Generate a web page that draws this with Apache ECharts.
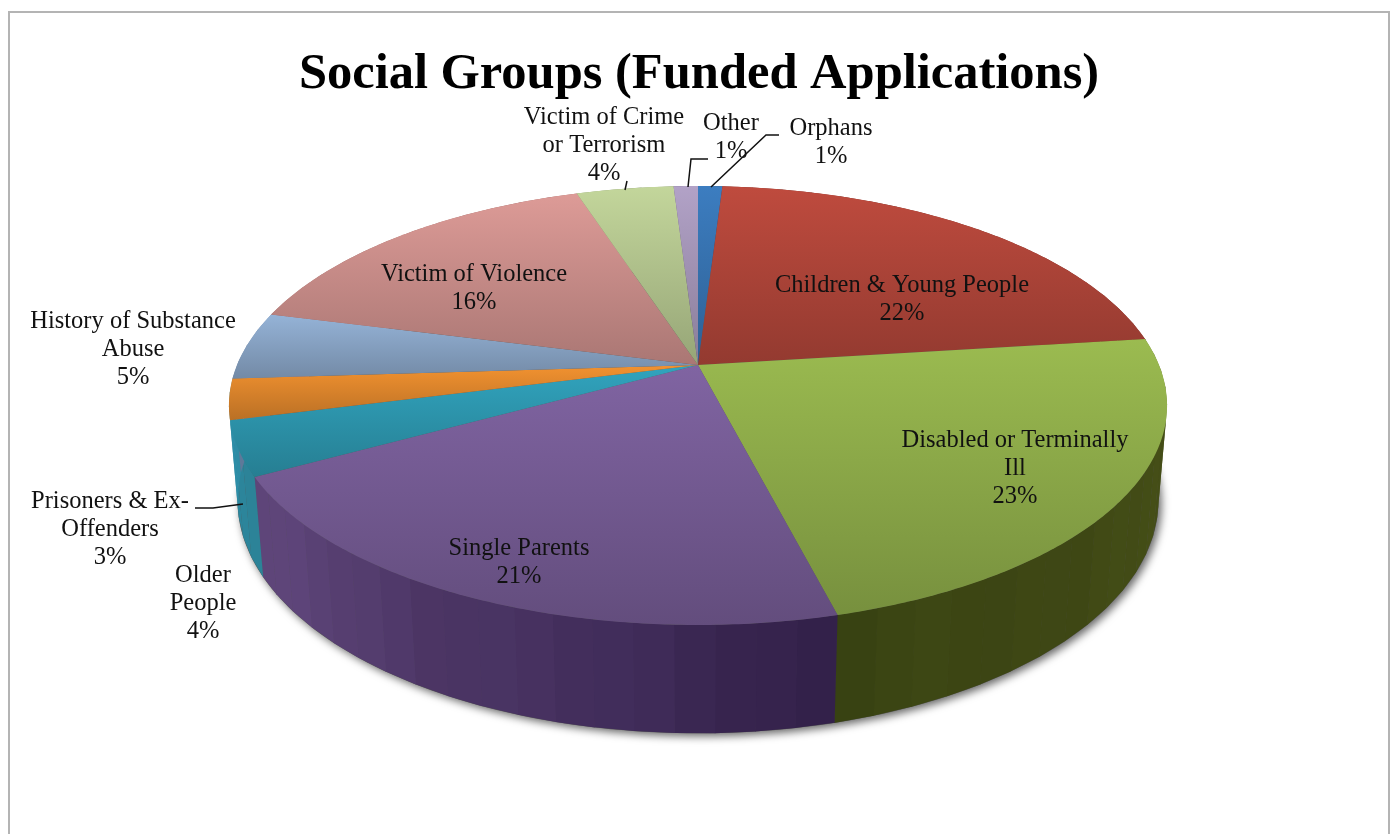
<!DOCTYPE html>
<html>
<head>
<meta charset="utf-8">
<title>Social Groups (Funded Applications)</title>
<style>
  html, body { margin: 0; padding: 0; background: #ffffff; overflow: hidden; }
  #chart { width: 1398px; height: 834px; }
</style>
<script src="https://cdn.jsdelivr.net/npm/echarts@6/dist/echarts.min.js"></script>
</head>
<body>
<div id="chart"></div>
<script>
// Share of funded applications per social group, clockwise from 12 o'clock.
const categories = [
  'Orphans', 'Children & Young People', 'Disabled or Terminally\nIll', 'Single Parents',
  'Older\nPeople', 'Prisoners & Ex-\nOffenders', 'History of Substance\nAbuse',
  'Victim of Violence', 'Victim of Crime\nor Terrorism', 'Other'
];
const values = [1, 22, 23, 21, 4, 3, 5, 16, 4, 1];
const topColors = [
  '#3c7dc0', '#bf4b3e', '#9bbb50', '#8064a2', '#31a4be', '#f29230', '#95b3d7', '#dd9b97', '#c3d69b', '#b2a2c7'
];
// Side wall colours at the clockwise start and end of each slice.
const wallStart = ['#1f4a78', '#6a2018', '#4a5219', '#33214a', '#2c8499', '#2c8aa3', '#5f7a9a', '#9a6460', '#80906a', '#6f6080'];
const wallEnd   = ['#1f4a78', '#6a2018', '#384212', '#63497f', '#2c8aa3', '#2c8aa3', '#5f7a9a', '#9a6460', '#80906a', '#6f6080'];

// Label block centres, one per category.
const labelCentres = [
  [831, 143], [902, 299.5], [1015, 469], [519, 563], [203, 604], [110, 530], [133, 350], [474, 289], [604, 146], [731, 138]
];
const leaderLines = [
  [[779, 135], [766, 135], [711, 187]],
  [[708, 159], [691, 159], [688, 187]],
  [[627, 181], [625, 190]],
  [[195, 508], [213, 508], [243, 504]]
];

// Perspective view of the disc: rim point for a clockwise angle, at depth 0 (top face) or 1 (base).
const view = { cx: 698, cy: 365, rx: 461, ry: 212, tilt: 0.1845, shrink: 0.018, depth: 95 };
function project(angle, depth) {
  const u = Math.sin(angle), v = -Math.cos(angle);
  const w = 1 - view.tilt * v + view.shrink * depth;
  return [view.cx + view.rx * u / w, view.cy + (view.ry * v + view.depth * depth) / w];
}
const total = values.reduce((a, b) => a + b, 0);
function sliceAngles(index) {
  let before = 0;
  for (let i = 0; i < index; i++) before += values[i];
  return [before / total * 2 * Math.PI, (before + values[index]) / total * 2 * Math.PI];
}
function darken(hex, f) {
  const n = parseInt(hex.slice(1), 16);
  const c = [(n >> 16) & 255, (n >> 8) & 255, n & 255].map(x => Math.min(255, Math.round(x * f)));
  return 'rgb(' + c.join(',') + ')';
}
function mix(a, b, t) {
  const pa = parseInt(a.slice(1), 16), pb = parseInt(b.slice(1), 16);
  const ch = s => Math.round(((pa >> s) & 255) * (1 - t) + ((pb >> s) & 255) * t);
  return '#' + [16, 8, 0].map(s => ch(s).toString(16).padStart(2, '0')).join('');
}

const chart = echarts.init(document.getElementById('chart'), null, { renderer: 'canvas' });
const seriesData = values.map((v, i) => ({ name: categories[i], value: v }));

function renderWall(params) {
  const i = params.dataIndex;
  const [a0, a1] = sliceAngles(i);
  const strips = Math.max(1, Math.round((a1 - a0) / 0.075));
  const children = [];
  for (let s = 0; s < strips; s++) {
    const t0 = a0 + (a1 - a0) * s / strips;
    const t1 = a0 + (a1 - a0) * (s + 1) / strips;
    // Faceted look of the rim: gentle banding along the arc.
    const band = 1 + 0.03 * Math.sin(t0 * 17) * Math.cos(t0 * 7);
    const fill = darken(mix(wallStart[i], wallEnd[i], s / strips), band);
    children.push({
      type: 'polygon',
      shape: { points: [project(t0, 0), project(t1 + 0.001, 0), project(t1 + 0.001, 1), project(t0, 1)] },
      style: { fill: fill }
    });
  }
  return { type: 'group', children: children };
}

function renderShadow(params) {
  if (params.dataIndex !== 0) return null;
  const pts = [];
  for (let a = 0; a < 2 * Math.PI; a += 0.02) pts.push(project(a, 1));
  return {
    type: 'polygon',
    shape: { points: pts },
    style: { fill: '#555555', shadowBlur: 9, shadowColor: 'rgba(0,0,0,0.6)', shadowOffsetX: 3, shadowOffsetY: 3 }
  };
}

function renderTop(params) {
  const i = params.dataIndex;
  const [a0, a1] = sliceAngles(i);
  const pts = [[view.cx, view.cy]];
  const steps = Math.max(2, Math.ceil((a1 - a0) / 0.01));
  for (let s = 0; s <= steps; s++) pts.push(project(a0 + (a1 - a0) * s / steps, 0));
  return {
    type: 'polygon',
    shape: { points: pts },
    style: {
      fill: new echarts.graphic.LinearGradient(0, 0, 0, 1, [
        { offset: 0, color: topColors[i] },
        { offset: 1, color: darken(topColors[i], 0.77) }
      ])
    }
  };
}

function renderLabel(params, api) {
  const i = params.dataIndex;
  return {
    type: 'text',
    style: {
      text: categories[i] + '\n' + api.value(0) + '%',
      x: labelCentres[i][0], y: labelCentres[i][1],
      align: 'center', verticalAlign: 'middle',
      fill: '#111111', lineHeight: 28,
      font: '24.5px "Liberation Serif"'
    }
  };
}

function layer(renderItem, z) {
  return {
    type: 'custom', coordinateSystem: 'none', renderItem: renderItem, data: seriesData,
    encode: { value: 0 }, z: z, silent: true, animation: false, clip: false
  };
}

chart.setOption({
  animation: false,
  backgroundColor: '#ffffff',
  title: {
    text: 'Social Groups (Funded Applications)',
    left: 'center', top: 44,
    textStyle: { fontFamily: '"Liberation Serif"', fontSize: 50.5, fontWeight: 'bold', color: '#000000' }
  },
  graphic: [
    {
      type: 'polyline', z: 0, silent: true,
      shape: { points: [[9, 834], [9, 12], [1389, 12], [1389, 834]] },
      style: { stroke: '#b4b4b4', lineWidth: 2, fill: null }
    }
  ].concat(leaderLines.map(points => ({
    type: 'polyline', z: 40, silent: true,
    shape: { points: points },
    style: { stroke: '#111111', lineWidth: 1.5, fill: null }
  }))),
  series: [
    layer(renderShadow, 5),
    layer(renderWall, 10),
    layer(renderTop, 20),
    layer(renderLabel, 30)
  ]
});
</script>
</body>
</html>
